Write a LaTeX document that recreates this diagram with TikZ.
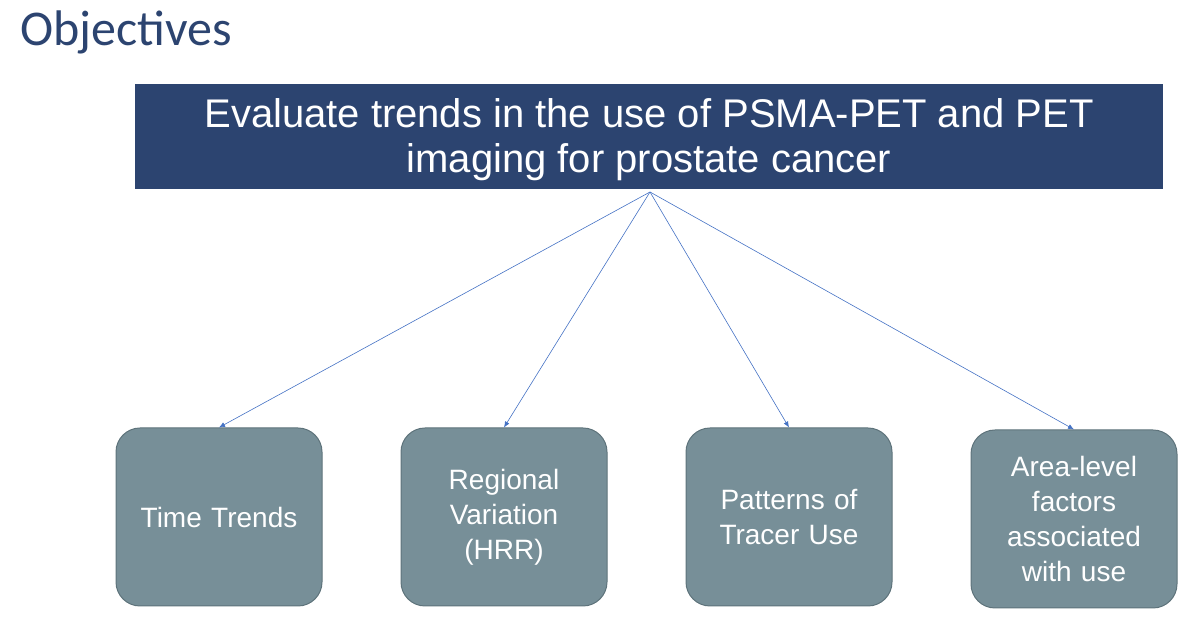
\documentclass[tikz,border=0pt]{standalone}
\usepackage{fontspec}
\setmainfont{Liberation Sans}
\newfontfamily\titlefont{Carlito}
\usetikzlibrary{arrows.meta}
\definecolor{navy}{HTML}{2C4470}
\definecolor{tealgray}{HTML}{778F98}
\definecolor{edgegray}{HTML}{5E737B}
\definecolor{linkblue}{HTML}{4472C4}
\begin{document}
\begin{tikzpicture}[x=1pt,y=1pt,
  sub/.style={draw=edgegray,line width=1pt,fill=tealgray,rounded corners=24pt,minimum width=206pt,minimum height=178pt,text=white,font=\fontsize{28}{35}\selectfont,align=center,text width=200pt,inner sep=2pt},
  link/.style={linkblue,line width=0.6pt,-{Latex[length=6pt,width=5pt]}}]
\useasboundingbox (0,0) rectangle (1200,634);
\node[anchor=west,text=navy,font=\titlefont\fontsize{50}{54}\selectfont] (title) at (17,602) {Objectives};
\node[fill=navy,minimum width=1028pt,minimum height=105pt,text=white,align=center,font=\fontsize{40}{45}\selectfont,inner sep=0pt] (main) at (649,497) {};
\node[text=white,align=center,font=\fontsize{40}{45}\selectfont,inner sep=0pt] (maintext) at (649,494) {Evaluate trends in the use of PSMA-PET and PET\\imaging for prostate cancer};
\node[sub] (a) at (219,117) {Time Trends};
\node[sub] (b) at (504,117) {Regional\\Variation\\(HRR)};
\node[sub] (c) at (789,117) {Patterns of\\Tracer Use};
\node[sub] (d) at (1074,115) {Area-level\\factors\\associated\\with use};
\coordinate (o) at (650,442);
\draw[link] (o) -- (a.north);
\draw[link] (o) -- (b.north);
\draw[link] (o) -- (c.north);
\draw[link] (o) -- (d.north);
\end{tikzpicture}
\end{document}
